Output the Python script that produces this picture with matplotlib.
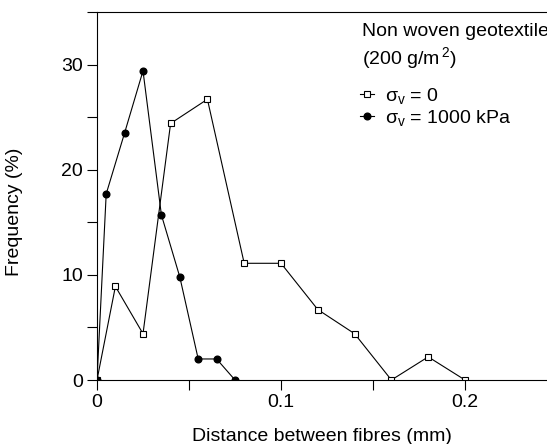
import matplotlib
matplotlib.use("Agg")
import matplotlib.pyplot as plt
from matplotlib.ticker import MultipleLocator

plt.rcParams['font.family'] = ['Liberation Sans', 'DejaVu Sans']
plt.rcParams['mathtext.fontset'] = 'custom'
plt.rcParams['mathtext.rm'] = 'Liberation Sans'
plt.rcParams['mathtext.it'] = 'Liberation Sans:italic'

# data
x_open = [0, 0.01, 0.025, 0.04, 0.06, 0.08, 0.10, 0.12, 0.14, 0.16, 0.18, 0.20]
y_open = [0, 8.9, 4.4, 24.4, 26.7, 11.1, 11.1, 6.7, 4.4, 0, 2.2, 0]
x_fill = [0, 0.005, 0.015, 0.025, 0.035, 0.045, 0.055, 0.065, 0.075]
y_fill = [0, 17.7, 23.5, 29.4, 15.7, 9.8, 2.0, 2.0, 0]
label_open = "σ$_{\\rm v}$ = 0"
label_fill = "σ$_{\\rm v}$ = 1000 kPa"
legend_title = ["Non woven geotextile", r"(200 g/m$^{\,2}$)"]

W, H = 547, 444
fig = plt.figure(figsize=(W/100, H/100), dpi=100)
ax = fig.add_axes([97/W, (H-380)/H, 460/W, 368/H])

l1, = ax.plot(x_open, y_open, color='black', lw=0.8, marker='s', ms=3.8,
              mfc='white', mec='black', mew=0.8, label=label_open)
l2, = ax.plot(x_fill, y_fill, color='black', lw=0.8, marker='o', ms=4.8,
              mfc='black', mec='black', label=label_fill)

ax.set_xlim(0, 0.25)
ax.set_ylim(0, 35)
ax.xaxis.set_major_locator(MultipleLocator(0.1))
ax.xaxis.set_minor_locator(MultipleLocator(0.05))
ax.yaxis.set_major_locator(MultipleLocator(10))
ax.yaxis.set_minor_locator(MultipleLocator(5))
ax.set_xticks([0, 0.1, 0.2])
ax.set_xticklabels(['0', '0.1', '0.2'])
ax.tick_params(which='both', direction='out', length=7, width=0.8, labelsize=14, pad=3)
ax.tick_params(which='minor', labelbottom=False, labelleft=False)
ax.spines['right'].set_visible(False)
for s in ['left', 'bottom', 'top']:
    ax.spines[s].set_linewidth(0.8)

ax.set_ylabel("Frequency (%)", fontsize=14)
ax.yaxis.set_label_coords((23-97)/460, (380-212)/368)
ax.set_xlabel("Distance between fibres (mm)", fontsize=14)
ax.xaxis.set_label_coords((322-97)/460, (380-428)/368)

fig.text(362/W, 1-31/H, legend_title[0], fontsize=14, va='center', ha='left')
fig.text(362/W, 1-58/H, legend_title[1], fontsize=14, va='center', ha='left')

ax.legend(handles=[l1, l2], loc='upper left', frameon=False, fontsize=14,
          bbox_to_anchor=(360/W, 1-86/H), bbox_transform=fig.transFigure,
          handlelength=0.7, handletextpad=0.6, labelspacing=0.1,
          borderaxespad=0, borderpad=0)

fig.savefig("out.png", dpi=100)
